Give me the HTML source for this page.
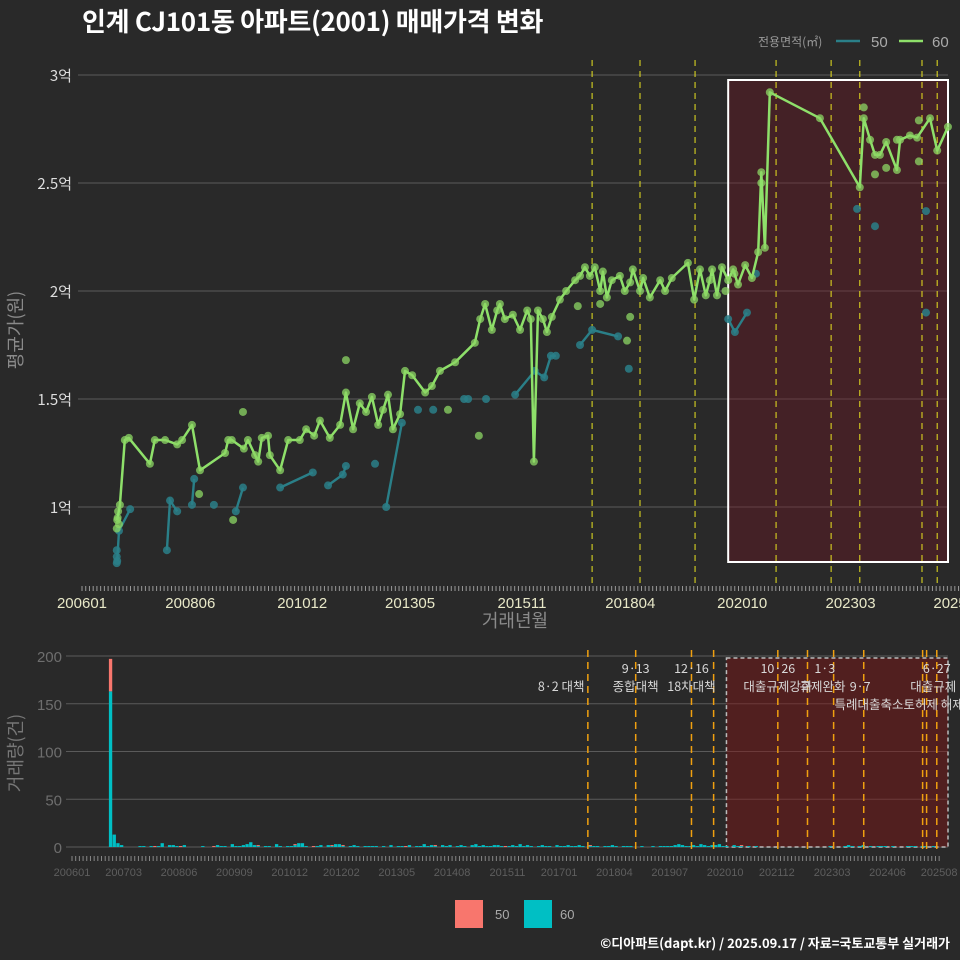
<!DOCTYPE html>
<html><head><meta charset="utf-8"><style>
html,body{margin:0;padding:0;background:#292929;}
svg{display:block;font-family:"Liberation Sans","Noto Sans CJK KR",sans-serif;}
</style></head><body>
<svg id="c" width="960" height="960" viewBox="0 0 960 960" xmlns="http://www.w3.org/2000/svg">
<rect width="960" height="960" fill="#292929"/>
<text x="82" y="31" fill="#ffffff" font-size="26" font-weight="bold" letter-spacing="-0.3" font-family="'Noto Sans CJK KR',sans-serif">인계 CJ101동 아파트(2001) 매매가격 변화</text>
<g>
<text x="758" y="46" fill="#999" font-size="12" font-family="'Noto Sans CJK KR',sans-serif">전용면적(㎡)</text>
<line x1="836" y1="41" x2="860" y2="41" stroke="#2a7f88" stroke-width="2.5"/>
<text x="871" y="47" fill="#aaa" font-size="15">50</text>
<line x1="899" y1="41" x2="923" y2="41" stroke="#8ee06a" stroke-width="2.5"/>
<text x="932" y="47" fill="#aaa" font-size="15">60</text>
</g>
<text x="515" y="627" fill="#8a8a8a" font-size="18" text-anchor="middle" font-family="'Noto Sans CJK KR',sans-serif">거래년월</text>
<text transform="translate(22,330) rotate(-90)" fill="#8a8a8a" font-size="18" text-anchor="middle" font-family="'Noto Sans CJK KR',sans-serif">평균가(원)</text>
<text transform="translate(22,753) rotate(-90)" fill="#777" font-size="18" text-anchor="middle" font-family="'Noto Sans CJK KR',sans-serif">거래량(건)</text>
<g>
<rect x="455" y="900" width="28" height="28" fill="#f8766d"/>
<text x="495" y="919" fill="#aaa" font-size="13">50</text>
<rect x="524" y="900" width="28" height="28" fill="#00bfc4"/>
<text x="560" y="919" fill="#aaa" font-size="13">60</text>
</g>
<text x="950" y="948" fill="#fff" font-size="13" font-weight="bold" text-anchor="end" font-family="'Noto Sans CJK KR',sans-serif">©디아파트(dapt.kr) / 2025.09.17 / 자료=국토교통부 실거래가</text>
</svg>
<script>
// ---------- data ----------
const priceTicks = [1, 1.5, 2, 2.5, 3];
const priceTickLabels = ['1억', '1.5억', '2억', '2.5억', '3억'];
const xTickLabels = ['200601','200806','201012','201305','201511','201804','202010','202303','202508'];
const xTickYears = [2006.0, 2008.42, 2010.92, 2013.33, 2015.83, 2018.25, 2020.75, 2023.17, 2025.58];
const line60T = [2007.01,2007.07,2007.18,2007.27,2007.74,2007.85,2008.08,2008.35,2008.46,2008.68,2008.86,2009.42,2009.49,2009.57,2009.84,2009.93,2010.09,2010.16,2010.24,2010.38,2010.42,2010.65,2010.83,2011.09,2011.23,2011.41,2011.54,2011.76,2011.99,2012.12,2012.28,2012.43,2012.57,2012.70,2012.84,2012.95,2013.06,2013.17,2013.33,2013.44,2013.60,2013.89,2014.04,2014.22,2014.56,2015.00,2015.12,2015.23,2015.38,2015.50,2015.56,2015.67,2015.85,2016.01,2016.17,2016.25,2016.32,2016.41,2016.52,2016.61,2016.72,2016.90,2017.04,2017.24,2017.35,2017.46,2017.57,2017.68,2017.80,2017.86,2017.95,2018.06,2018.24,2018.35,2018.47,2018.53,2018.69,2018.76,2018.91,2019.14,2019.25,2019.40,2019.76,2019.90,2020.03,2020.16,2020.25,2020.30,2020.41,2020.52,2020.66,2020.77,2020.88,2021.04,2021.19,2021.33,2021.40,2021.48,2021.59,2022.71,2023.60,2023.69,2023.83,2023.94,2024.05,2024.19,2024.43,2024.50,2024.72,2024.88,2025.17,2025.33,2025.57];
const line60V = [0.94,1.01,1.31,1.32,1.20,1.31,1.31,1.29,1.31,1.38,1.17,1.25,1.31,1.31,1.27,1.31,1.24,1.21,1.32,1.33,1.24,1.17,1.31,1.31,1.36,1.33,1.40,1.32,1.38,1.53,1.36,1.48,1.44,1.51,1.38,1.45,1.52,1.36,1.43,1.63,1.61,1.53,1.56,1.63,1.67,1.76,1.87,1.94,1.82,1.91,1.94,1.87,1.89,1.82,1.91,1.87,1.21,1.91,1.87,1.81,1.88,1.96,2.00,2.05,2.07,2.11,2.07,2.11,2.00,2.09,1.97,2.05,2.07,2.00,2.04,2.10,2.00,2.06,1.97,2.05,2.00,2.06,2.13,1.96,2.10,1.98,2.05,2.10,1.98,2.11,2.05,2.10,2.03,2.12,2.06,2.18,2.55,2.20,2.92,2.80,2.48,2.80,2.70,2.63,2.63,2.69,2.56,2.70,2.72,2.71,2.80,2.65,2.76];
const extra60T = [2007.00,2007.02,2007.03,2007.05,2008.84,2009.60,2009.82,2012.12,2015.09,2014.40,2017.30,2017.80,2018.40,2018.47,2023.69,2023.94,2024.19,2024.92,2024.92,2024.43,2021.40,2020.80,2020.60];
const extra60V = [0.90,0.95,0.98,0.92,1.06,0.94,1.44,1.68,1.33,1.45,1.93,1.94,1.77,1.88,2.85,2.54,2.57,2.60,2.79,2.70,2.50,2.08,2.00];
// 50㎡ series: segments separated by null
const line50T = [2007.01,2007.05,2007.30,null,2008.12,2008.19,2008.35,null,2008.68,2008.73,null,2009.66,2009.82,null,2010.65,2011.38,null,2011.72,2012.05,2012.12,null,2013.02,2013.37,null,2015.90,2016.34,2016.55,2016.70,2016.81,null,2017.35,2017.62,2018.20,null,2020.66,2020.81,2021.08];
const line50V = [0.75,0.89,0.99,null,0.80,1.03,0.98,null,1.01,1.13,null,0.98,1.09,null,1.09,1.16,null,1.10,1.15,1.19,null,1.00,1.39,null,1.52,1.63,1.60,1.70,1.70,null,1.75,1.82,1.79,null,1.87,1.81,1.90];
const dots50T = [2007.0,2007.0,2007.0,2009.17,2012.77,2013.73,2014.07,2014.76,2014.85,2015.25,2018.44,2021.28,2023.54,2023.94,2025.08,2025.08];
const dots50V = [0.74,0.77,0.80,1.01,1.20,1.45,1.45,1.50,1.50,1.50,1.64,2.08,2.38,2.30,2.37,1.90];
const topPolicyYears = [2017.62,2018.69,2019.92,2021.73,2022.96,2023.60,2024.99,2025.33];
const highlightStart = 2020.66, highlightEnd = 2025.60;

const volTicks = [0,50,100,150,200];
const volXTickLabels = ['200601','200703','200806','200909','201012','201202','201305','201408','201511','201701','201804','201907','202010','202112','202303','202406','202508'];
const volXTickMonths = [0,14,29,44,59,73,88,103,118,132,147,162,177,191,206,221,235];
const vol60 = [
0,0,0,0,0,0,0,0,0,0,163,13,
4,2,0,0,0,0,1,1,0,1,0,1,
4,0,2,2,1,0,2,0,0,0,0,1,
0,0,0,2,1,1,0,3,1,1,2,3,
5,2,1,0,1,1,0,3,1,0,1,1,
2,4,4,1,0,0,1,2,0,2,1,3,
3,1,0,1,2,1,0,1,1,1,1,0,
1,0,2,0,1,1,0,2,0,1,1,3,
1,2,1,0,2,1,2,0,1,2,1,0,
2,3,1,2,1,1,2,2,1,0,1,2,
1,3,1,2,1,0,1,2,1,1,0,2,
1,1,2,1,1,2,1,0,1,1,1,0,
1,1,2,1,0,1,1,1,0,0,1,0,
0,1,0,1,1,1,1,2,3,2,1,1,
2,1,3,2,1,2,2,3,1,1,0,2,
1,1,0,1,0,1,0,0,0,0,0,0,
0,0,0,0,0,0,0,0,0,0,0,0,
0,1,0,0,0,1,2,1,0,1,2,0,
1,0,1,1,1,0,1,0,0,0,1,1,
1,0,1,1,0,1,0,0];
const vol50 = [
0,0,0,0,0,0,0,0,0,0,34,0,
0,0,0,0,0,0,0,0,0,0,1,0,
0,0,0,0,0,1,0,0,0,0,0,0,
0,0,1,0,0,0,0,0,0,0,0,0,
0,0,1,0,0,0,0,0,0,0,0,0,
1,0,0,0,0,1,0,0,0,0,1,0,
0,1,0,0,0,0,0,0,0,0,0,0,
0,0,0,0,0,0,1,0,0,0,0,0,
0,0,1,0,0,0,0,0,0,0,0,0,
0,0,0,0,0,0,0,0,0,1,0,0,
0,0,0,0,0,0,0,0,0,0,0,0,
0,0,0,0,0,0,0,0,1,0,0,0,
0,0,0,0,0,0,0,0,0,0,0,0,
0,0,0,0,0,0,0,0,0,0,0,0,
0,0,0,0,0,0,0,0,0,0,0,0,
0,1,0,0,0,0,0,0,0,0,0,0,
0,0,0,0,0,0,0,0,0,0,0,0,
0,0,0,0,0,0,0,0,0,0,0,0,
0,0,0,0,0,0,0,0,0,0,0,0,
0,0,0,0,0,0,0,0];
const volPolicyYears = [2017.65,2018.73,2019.99,2020.49,2021.94,2022.61,2023.20,2023.88,2025.21,2025.30,2025.53];
const volHighlightStart = 2020.78, volHighlightEnd = 2025.60;
const annTexts = ['8·2 대책','9·13','종합대책','12·16','18차대책','10·26','대출규제강화','1·3','규제완화','9·7','특례대출축소토허제 해제','6·27','대출규제'];
const annYears = [2017.62,2018.73,2018.73,2019.99,2019.99,2021.94,2021.94,2023.0,2022.95,2023.80,2024.68,2025.53,2025.45];
const annRows = [1,0,1,0,1,0,1,0,1,1,2,0,1];
const annAnchor = ['end','middle','middle','middle','middle','middle','middle','middle','middle','middle','middle','middle','middle'];

// ---------- scales ----------
const X0 = 72, PXM = 3.73;
const xTop = t => X0 + (t - 2006) * 12 * PXM;
const yTop = v => 507 - (v - 1) * 216;
const XB0 = 72, PXMB = 3.69;
const xBot = t => XB0 + (t - 2006) * 12 * PXMB;
const xBotM = m => XB0 + m * PXMB;
const yBot = v => 847 - v * 0.955;

const NS = 'http://www.w3.org/2000/svg';
const svg = document.getElementById('c');
function mk(tag, attrs, parent) {
  const e = document.createElementNS(NS, tag);
  for (const k in attrs) e.setAttribute(k, attrs[k]);
  (parent || svg).appendChild(e);
  return e;
}
const gTop = mk('g', {});


const gBot = mk('g', {});



priceTicks.forEach((v, i) => {
  const l = mk('line', {x1: 78, x2: 948, y1: yTop(v), y2: yTop(v), stroke: '#5a5a5a', 'stroke-width': 1}, gTop);
  
  
  const t = mk('text', {x: 72, y: yTop(v) + 6, fill: '#dddddd', 'font-size': 15, 'text-anchor': 'end', 'font-family': "'Noto Sans CJK KR',sans-serif"}, gTop);
  t.textContent = priceTickLabels[i];
  
  
});
const hr = mk('rect', {x: xTop(highlightStart), y: 80, width: 948 - xTop(highlightStart), height: 482, fill: 'rgba(120,20,35,0.35)', stroke: '#ffffff', 'stroke-width': 2}, gTop);


topPolicyYears.forEach(t => {
  const l = mk('line', {x1: xTop(t), x2: xTop(t), y1: 60, y2: 585, stroke: '#e6e020', 'stroke-width': 1.2, 'stroke-dasharray': '6,5', opacity: 0.85}, gTop);
  
  
});
for (let m = 0; m <= 235; m++) {
  const l = mk('line', {x1: X0 + m * PXM + 10, x2: X0 + m * PXM + 10, y1: 586, y2: 591, stroke: '#999', 'stroke-width': 1}, gTop);
  
  
}
xTickLabels.forEach((s, i) => {
  const t = mk('text', {x: xTop(xTickYears[i]) + 10, y: 608, fill: '#e8e8c8', 'font-size': 15, 'text-anchor': 'middle'}, gTop);
  t.textContent = s;
  
  
});
let d = '', pen = false;
line50T.forEach((t, i) => {
  if (t === null) { pen = false; return; }
  d += (pen ? 'L' : 'M') + xTop(t).toFixed(1) + ',' + yTop(line50V[i]).toFixed(1);
  pen = true;
});
const p50 = mk('path', {d: d, fill: 'none', stroke: '#2a7f88', 'stroke-width': 2.4}, gTop);


line50T.forEach((t, i) => {
  if (t === null) return;
  const c = mk('circle', {cx: xTop(t), cy: yTop(line50V[i]), r: 4, fill: 'rgba(42,127,136,0.85)'}, gTop);
  
  
});
dots50T.forEach((t, i) => {
  const c = mk('circle', {cx: xTop(t), cy: yTop(dots50V[i]), r: 4, fill: 'rgba(42,127,136,0.85)'}, gTop);
  
  
});
extra60T.forEach((t, i) => {
  const c = mk('circle', {cx: xTop(t), cy: yTop(extra60V[i]), r: 4, fill: 'rgba(140,215,100,0.75)'}, gTop);
  
  
});
const p60 = mk('path', {d: line60T.map((t, i) => (i ? 'L' : 'M') + xTop(t).toFixed(1) + ',' + yTop(line60V[i]).toFixed(1)).join(''), fill: 'none', stroke: '#8ee06a', 'stroke-width': 2.5, 'stroke-linejoin': 'round'}, gTop);


line60T.forEach((t, i) => {
  const c = mk('circle', {cx: xTop(t), cy: yTop(line60V[i]), r: 4, fill: 'rgba(140,215,100,0.75)'}, gTop);
  
  
});

// ---------- bottom ----------
volTicks.forEach(v => {
  const l = mk('line', {x1: 66, x2: 948, y1: yBot(v), y2: yBot(v), stroke: '#5a5a5a', 'stroke-width': 1}, gBot);
  
  
  const t = mk('text', {x: 62, y: yBot(v) + 6, fill: '#6e6e6e', 'font-size': 15, 'text-anchor': 'end'}, gBot);
  t.textContent = v;
  
  
});
const br = mk('rect', {x: xBot(volHighlightStart), y: 658, width: 948 - xBot(volHighlightStart), height: 189, fill: 'rgba(130,20,20,0.45)', stroke: '#bbbbbb', 'stroke-width': 1.5, 'stroke-dasharray': '4,3'}, gBot);


vol60.forEach((v, m) => {
  if (v > 0) {
    const r = mk('rect', {x: xBotM(m), y: yBot(v), width: PXMB * 0.9, height: v * 0.955, fill: '#00bfc4'}, gBot);
    
    
  }
  const w = vol50[m];
  if (w > 0) {
    const r = mk('rect', {x: xBotM(m), y: yBot(v + w), width: PXMB * 0.9, height: w * 0.955, fill: '#f8766d'}, gBot);
    
    
  }
});
volPolicyYears.forEach(t => {
  const l = mk('line', {x1: xBot(t), x2: xBot(t), y1: 650, y2: 852, stroke: '#f0a010', 'stroke-width': 1.5, 'stroke-dasharray': '7,5'}, gBot);
  
  
});
annTexts.forEach((s, i) => {
  const t = mk('text', {x: xBot(annYears[i]) + (annAnchor[i] === 'end' ? -2 : 0), y: 673 + annRows[i] * 18, fill: '#d8d8d8', 'font-size': 12.5, 'text-anchor': annAnchor[i], 'font-family': "'Noto Sans CJK KR',sans-serif"}, gBot);
  t.textContent = s;
  
  
});
for (let m = 0; m <= 235; m++) {
  const l = mk('line', {x1: xBotM(m), x2: xBotM(m), y1: 856, y2: 861, stroke: '#888', 'stroke-width': 1}, gBot);
  
  
}
volXTickLabels.forEach((s, i) => {
  const t = mk('text', {x: xBotM(volXTickMonths[i]), y: 876, fill: '#5e5e5e', 'font-size': 11, 'text-anchor': 'middle'}, gBot);
  t.textContent = s;
  
  
});
</script>
</body></html>
